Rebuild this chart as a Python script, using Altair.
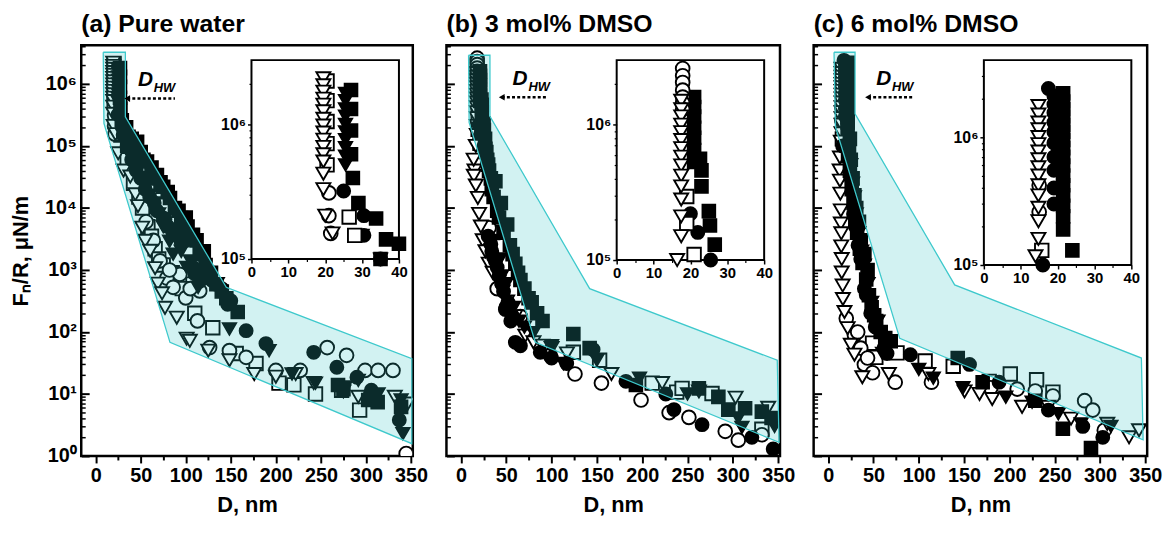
import altair as alt
import pandas as pd

FONT = "Liberation Sans, Arial, Helvetica, sans-serif"

SERIES = ["sq_f", "ci_f", "tr_f", "sq_o", "ci_o", "tr_o"]
SHAPES = ["square", "circle", "triangle-down", "square", "circle", "triangle-down"]
FILLS = ["#000000", "#000000", "#000000", "#ffffff", "#ffffff", "#ffffff"]
SIZES = [165, 200, 245, 165, 200, 245]

PANEL_TITLES = ["(a) Pure water", "(b) 3 mol% DMSO", "(c) 6 mol% DMSO"]
X_TICKS = [0, 50, 100, 150, 200, 250, 300, 350]
X_MINOR = [25, 75, 125, 175, 225, 275, 325]
Y_TICKS = [1, 10, 100, 1e3, 1e4, 1e5, 1e6]
Y_MINOR = [m * 10 ** k for k in range(7) for m in range(2, 10) if m * 10 ** k < 4.2e6]
INSET_X_TICKS = [0, 10, 20, 30, 40]
INSET_X_MINOR = [5, 15, 25, 35]
INSET_Y_TICKS = [1e5, 1e6]
INSET_TOPS = [3.0e6, 3.0e6, 4.0e6]

# ---------------- panel (a) pure water ----------------
A_SQF_D = [27, 27, 27, 27, 27.5, 29, 33.8, 36.5, 40, 46, 50, 57, 62, 68, 75, 82.5, 88, 95, 102, 108,
           115.5, 122, 134, 140, 157.7, 269, 275, 302.5, 313, 339,
           35, 43, 53, 60, 72, 80, 92, 100, 112, 120, 128, 145]
A_SQF_F = [1.8e6, 1.3e6, 9e5, 6e5, 4e5, 2.6e5, 2e5, 1.4e5, 1.3e5, 1.17e5, 8e4, 5.6e4, 4.5e4, 3.4e4, 2.2e4,
           1.45e4, 1e4, 6.9e3, 5e3, 3.7e3, 1.8e3, 1.2e3, 590, 450, 210, 14, 12, 8, 7.4, 6.2,
           1e5, 9e4, 6e4, 3e4, 2.6e4, 1.8e4, 9e3, 7e3, 3e3, 2e3, 900, 350]
A_CIF_D = [25, 30.5, 30.5, 35, 40, 50, 60, 68, 75, 77, 86, 93.5, 95, 108, 110, 115.5, 134, 146.5, 167,
           189, 242, 267.7, 290, 306, 337,
           45, 55, 65, 80, 90, 100, 120, 128, 140, 150]
A_CIF_F = [3.2e5, 2.1e5, 1.5e5, 1.0e5, 6e4, 3e4, 1.5e4, 9e3, 6.9e3, 6.6e3, 3.7e3, 3.3e3, 2.75e3, 1.1e3,
           870, 660, 590, 280, 105, 65, 47, 27, 18.6, 11.5, 3.8,
           4e4, 2e4, 1.2e4, 5e3, 4.5e3, 3e3, 900, 700, 500, 320]
A_TRF_D = [25.5, 25.5, 25.5, 25.5, 25.5, 25.5, 25.5, 25.5, 25.5, 25.5, 30, 35, 45, 55, 65, 82, 86, 101,
           113.7, 148.5, 192.5, 218, 244, 277, 291.5, 313.5, 339, 341,
           38, 42, 50, 60, 70, 75, 95, 105, 125, 135]
A_TRF_F = [1.7e6, 1.5e6, 1.3e6, 1.15e6, 1.0e6, 8.8e5, 7.7e5, 6.7e5, 5.8e5, 5e5, 1.5e5, 1.0e5, 4.5e4,
           2.2e4, 1.2e4, 2.9e3, 1.8e3, 1.1e3, 525, 112, 50, 21, 15, 13, 16.6, 10, 8, 2.3,
           7e4, 5e4, 3e4, 1.6e4, 8e3, 5e3, 2e3, 1.4e3, 700, 600]
A_SQO_D = [20.5, 20.5, 20.5, 20.5, 20.5, 26.5, 28, 48, 58, 66, 75, 90, 108, 110, 130, 156, 178, 203.5,
           220, 244, 273, 293, 35, 42, 52, 62, 70, 85, 96]
A_SQO_F = [2.1e6, 1.5e6, 1.05e6, 7.2e5, 5e5, 2.05e5, 1.5e5, 1.5e4, 5e3, 2.2e3, 1.2e3, 700, 590, 200,
           117, 45, 31, 15, 14, 10, 11.5, 5.5, 6e4, 2.5e4, 1e4, 3.5e3, 1.5e3, 900, 500]
A_CIO_D = [21, 21, 21.5, 64, 71.5, 79, 86, 93.5, 100, 113, 115.5, 126.5, 148.5, 167, 200, 227, 257,
           278.5, 299, 313.5, 330, 344.7, 56, 82, 105]
A_CIO_F = [3.1e5, 2.1e5, 1.55e5, 3e3, 1.4e3, 740, 525, 850, 355, 151, 460, 56, 50, 39, 24, 24, 56, 42,
           24, 24, 24, 1.1, 6e3, 1e3, 500]
A_TRO_D = [19.5, 19.5, 19.5, 19.5, 19.5, 19.5, 19.5, 19.5, 19.5, 19.5, 19.5, 19.5, 19.5, 19.5, 19.5,
           20, 22, 25, 31, 38.5, 44, 47, 51.7, 55, 60.5, 66, 69, 73.7, 77, 90, 101, 104.5, 125, 148.5,
           176, 200, 222, 242, 275, 291.5, 332, 346.5]
A_TRO_F = [2.2e6, 1.95e6, 1.75e6, 1.55e6, 1.4e6, 1.25e6, 1.1e6, 9.8e5, 8.7e5, 7.7e5, 6.8e5, 6.0e5,
           5.3e5, 4.3e5, 3.3e5, 2.1e5, 1.55e5, 7.6e4, 4e4, 3.2e4, 1.66e4, 1.07e4, 4.8e3, 2.95e3, 2.04e3,
           1.07e3, 600, 420, 245, 170, 78, 72, 50, 35, 21, 19, 21, 15, 11, 9, 9, 7]

# ---------------- panel (b) 3 mol% DMSO ----------------
B_SQF_D = [21, 21, 21, 21, 21, 21, 21, 22.6, 23, 23, 25, 25.3, 26.6, 28, 30, 33, 38, 44, 51, 60, 65.6,
           74.6, 84, 124, 142, 193, 262.5, 284, 295, 313.5, 332, 342.7,
           27, 29, 31, 34, 36, 40, 42, 47, 54, 57, 63, 70, 78, 90]
B_SQF_F = [1.6e6, 1.35e6, 1.15e6, 9.5e5, 8e5, 6.5e5, 5.3e5, 5.6e5, 4.6e5, 3.5e5, 2.3e5, 1.8e5, 1.3e5,
           8e4, 5e4, 3e4, 2.7e4, 1.2e4, 5.4e3, 1.26e3, 690, 350, 200, 93, 55, 14, 12.3, 9, 5.6, 5.9, 5.2,
           4.1, 9e4, 6e4, 4e4, 2e4, 1.5e4, 9e3, 7e3, 4e3, 2.5e3, 1.8e3, 900, 500, 300, 150]
B_CIF_D = [20, 22, 25.5, 33, 36, 40, 45, 49, 55, 60, 65.6, 87.5, 100, 116.7, 145.8, 182, 226, 235, 266,
           321, 344.5, 30, 34, 38, 42, 47, 52, 57]
B_CIF_F = [2.2e5, 1.6e5, 1e5, 2.6e3, 1.6e3, 1.1e3, 600, 230, 150, 68, 60, 47, 38, 31, 52, 16, 10, 5.6,
           3.2, 2, 1.3, 3.5e3, 2e3, 1.4e3, 800, 450, 300, 180]
B_TRF_D = [45, 70, 80, 100, 113, 150, 197, 250, 306, 310, 346, 35, 43, 50, 58, 64]
B_TRF_F = [800, 120, 97, 60, 31, 35, 18, 10, 4.1, 2.9, 3, 3e3, 1.5e3, 600, 250, 150]
B_SQO_D = [19, 19, 21, 35, 124, 153, 211, 238, 244, 277, 332]
B_SQO_F = [2.95e5, 1.86e5, 1.1e5, 4e3, 47, 35, 15, 10.7, 12.3, 10.2, 2.7]
B_CIO_D = [17.9, 17.9, 17.9, 17.9, 17.9, 17.9, 17.9, 31, 65.6, 98.4, 125.8, 155, 198.7, 229.7, 251.5,
           291.6, 306, 332, 40, 50]
B_CIO_F = [2.6e6, 2.3e6, 2.05e6, 1.8e6, 1.6e6, 1.45e6, 1.3e6, 4.8e3, 178, 42, 21, 15, 8, 5, 4.2, 2.5,
           1.8, 2.2, 500, 250]
B_TRO_D = [17.5, 17.5, 17.5, 17.5, 17.5, 17.5, 17.5, 17.5, 17.5, 17.5, 17.5, 17.5, 17.5, 17.5, 16.4, 15,
           14.2, 16.4, 18.6, 24, 30.6, 41.6, 51, 71, 80, 117, 166, 222, 262.6, 303, 339,
           14, 20, 22, 27, 35, 46, 60, 90, 100]
B_TRO_F = [1.5e6, 1.3e6, 1.15e6, 1.0e6, 8.8e5, 7.7e5, 6.7e5, 5.8e5, 5e5, 4.2e5, 3.5e5, 2.8e5, 2.1e5,
           1.5e5, 1e5, 4e4, 3.3e4, 2.3e4, 1.45e4, 3e3, 1.26e3, 650, 310, 87, 68, 45, 21, 15, 11, 8.7, 6,
           6e4, 8e3, 5e3, 2e3, 900, 450, 180, 60, 55]

# ---------------- panel (c) 6 mol% DMSO ----------------
C_SQF_D = [21.5, 21.5, 21.5, 21.5, 21.5, 21.5, 21.5, 21.5, 21.5, 21.5, 21.5, 21.5, 21.5, 21.5, 21.5,
           21.5, 24, 22, 24, 26, 28, 30, 32, 35, 38, 43.5, 45, 50.8, 58, 69, 143, 170.5, 228.5, 259, 290,
           23, 25, 27, 29, 31, 34, 36, 40, 42, 48, 53, 63]
C_SQF_F = [2.2e6, 1.9e6, 1.65e6, 1.45e6, 1.25e6, 1.1e6, 9.5e5, 8.2e5, 7e5, 6e5, 5e5, 4.2e5, 3.5e5,
           2.9e5, 2.4e5, 1.9e5, 1.3e5, 7e4, 4e4, 2e4, 1.2e4, 7e3, 4e3, 2.2e3, 1.3e3, 1e3, 390, 186, 100,
           71, 38, 15.5, 7.8, 2.75, 1.35, 9e4, 6e4, 3e4, 1.6e4, 1e4, 6e3, 3e3, 1.8e3, 700, 250, 150, 80]
C_CIF_D = [17.5, 19, 19, 19, 19, 19, 19, 19, 19, 19, 19, 16, 25, 28, 33, 40, 61.7, 90.7, 156, 188.6,
           243, 281, 303, 30, 36, 42, 47, 52, 65]
C_CIF_F = [2.4e6, 2.1e6, 1.8e6, 1.55e6, 1.3e6, 1.1e6, 9e5, 7e5, 5.5e5, 4e5, 3e5, 1e5, 3e4, 8e3, 2.5e3,
           500, 55, 43, 30, 15.5, 5.5, 3, 2, 5e3, 1.5e3, 400, 200, 120, 45]
C_TRF_D = [60, 100, 116, 148.7, 196, 225, 254, 279, 312, 25, 27, 29, 31, 34, 37, 40, 44, 48, 55]
C_TRF_F = [45, 25, 18, 12.6, 8.9, 7.4, 4.8, 3.3, 3, 5e4, 2.5e4, 1.5e4, 8e3, 4e3, 2e3, 1.2e3, 600, 300,
           150]
C_SQO_D = [15.7, 20, 49, 52.6, 76, 107, 138, 177.7, 201, 230, 248]
C_SQO_F = [1.3e5, 7e4, 66, 39, 46, 34, 28, 16, 21, 17, 10.7]
C_CIO_D = [15, 15, 20, 29, 32.6, 36, 40, 43.5, 49, 74, 114, 179.5, 208.6, 228.5, 248, 283, 292, 304.7]
C_CIO_F = [4.2e5, 2.6e5, 166, 89, 100, 55, 30, 38, 22, 15.5, 15.5, 12.6, 12, 11.2, 9.3, 7.8, 5.5, 2.6]
C_TRO_D = [14.8, 14.8, 14.8, 14.8, 14.8, 14.8, 14.8, 14.8, 14.8, 14.8, 14.8, 14.8, 14.8, 14.8, 14.8,
           14, 13, 12.7, 13, 13.5, 14, 14, 14.5, 14.5, 15, 15, 16, 16.3, 18, 21.5, 25, 29, 37.7,
           67, 110.6, 150.5, 167, 181, 214, 243, 268, 308, 332, 343]
C_TRO_F = [1.75e6, 1.5e6, 1.3e6, 1.15e6, 1.0e6, 8.8e5, 7.7e5, 6.7e5, 5.8e5, 5e5, 4.2e5, 3.5e5, 2.8e5,
           2.2e5, 1.6e5, 1.17e5, 6.5e4, 4e4, 2.75e4, 1.7e4, 9.1e3, 5.6e3, 3.9e3, 2.4e3, 1.5e3, 910, 560,
           340, 210, 115, 62, 43, 18.6, 21, 21, 11, 10, 8.3, 6.2, 6.2, 4, 3.3, 2, 2.6]

PANEL_DATA = [
    [(A_SQF_D, A_SQF_F), (A_CIF_D, A_CIF_F), (A_TRF_D, A_TRF_F),
     (A_SQO_D, A_SQO_F), (A_CIO_D, A_CIO_F), (A_TRO_D, A_TRO_F)],
    [(B_SQF_D, B_SQF_F), (B_CIF_D, B_CIF_F), (B_TRF_D, B_TRF_F),
     (B_SQO_D, B_SQO_F), (B_CIO_D, B_CIO_F), (B_TRO_D, B_TRO_F)],
    [(C_SQF_D, C_SQF_F), (C_CIF_D, C_CIF_F), (C_TRF_D, C_TRF_F),
     (C_SQO_D, C_SQO_F), (C_CIO_D, C_CIO_F), (C_TRO_D, C_TRO_F)],
]

# shaded region outlines (vertices, closed)
POLY_A_D = [8.4, 33, 33, 145, 351, 351, 82.5, 9.2, 8.4]
POLY_A_F = [3.24e6, 3.24e6, 2.95e5, 525, 37, 1.58, 68, 2.3e5, 3.24e6]
POLY_B_D = [8.4, 32, 32, 142, 349, 351, 82, 9, 8.4]
POLY_B_F = [2.9e6, 2.9e6, 3.0e5, 500, 35, 1.66, 68, 2.4e5, 2.9e6]
POLY_C_D = [6.5, 29.7, 29.7, 139.6, 345.6, 347.5, 79, 8, 6.5]
POLY_C_F = [3.24e6, 3.24e6, 3.3e5, 575, 38, 1.82, 79, 2.04e5, 3.24e6]
POLYS = [(POLY_A_D, POLY_A_F), (POLY_B_D, POLY_B_F), (POLY_C_D, POLY_C_F)]

# D_HW annotation
ANN_TEXT_D = [47, 57, 53]
ANN_TEXT_F = [9.3e5, 9.5e5, 9.5e5]
ANN_ARROW_D0 = [35, 45, 44]
ANN_ARROW_D1 = [88, 95, 95]
ANN_ARROW_F = [5.8e5, 6.1e5, 6.1e5]

WIDTHS = [335, 337, 337]
H = 415
INSET_X_RANGE = [172, 321]
INSET_Y_BOTTOM = [216, 217, 222]
INSET_Y_TOP = 15

SUP = ("'10' + substring('⁰¹²³⁴⁵⁶⁷⁸⁹', round(log(datum.value)/LN10), "
       "round(log(datum.value)/LN10) + 1)")


def build_df(i, order):
    rows = []
    for k in order:
        s = SERIES[k]
        ds, fs = PANEL_DATA[i][k]
        for d, f in zip(ds, fs):
            rows.append({"D": d, "F": f, "s": s})
    return pd.DataFrame(rows)


def panel(i):
    df_main = build_df(i, [3, 4, 5, 0, 1, 2])   # filled symbols drawn on top
    df_ins = build_df(i, [0, 1, 2, 3, 4, 5])    # open symbols drawn on top
    pd_, pf_ = POLYS[i]
    poly_df = pd.DataFrame({"D": pd_, "F": pf_, "i": list(range(len(pd_)))})
    ann = pd.DataFrame({"tx": [ANN_TEXT_D[i]], "ty": [ANN_TEXT_F[i]], "a0": [ANN_ARROW_D0[i]],
                        "a1": [ANN_ARROW_D1[i]], "ay": [ANN_ARROW_F[i]]})
    top = INSET_TOPS[i]
    ybot = INSET_Y_BOTTOM[i]
    box = pd.DataFrame({"x0": [0], "x1": [40], "y0": [1e5], "y1": [top]})

    xs = alt.Scale(domain=[-16, 352], nice=False, zero=False)
    ys = alt.Scale(type="log", domain=[1, 4.2e6], nice=False)
    xi = alt.Scale(domain=[0, 40], range=INSET_X_RANGE, nice=False, zero=False)
    yi = alt.Scale(type="log", domain=[1e5, top], range=[ybot, INSET_Y_TOP], nice=False)
    shape = alt.Shape("s:N", scale=alt.Scale(domain=SERIES, range=SHAPES), legend=None)
    fill = alt.Fill("s:N", scale=alt.Scale(domain=SERIES, range=FILLS), legend=None)
    size = alt.Size("s:N", scale=alt.Scale(domain=SERIES, range=SIZES), legend=None)

    x_major = alt.Axis(orient="bottom", values=X_TICKS, tickSize=7, tickWidth=2, domain=False,
                       labelFontSize=20, labelPadding=3, labelFlush=False, labelOverlap=False,
                       title="D, nm", titleFontSize=22, titlePadding=9, zindex=2)
    x_minor = alt.Axis(orient="bottom", values=X_MINOR, tickSize=4, tickWidth=2, domain=False,
                       labels=False, title=None, zindex=2)
    if i == 0:
        y_lab = alt.Axis(orient="left", values=Y_TICKS, ticks=False, domain=False, labelExpr=SUP,
                         labelFontSize=20, labelPadding=5, labelOverlap=False,
                         title="Fₙ/R, μN/m", titleFontSize=22, titlePadding=12, zindex=2)
    else:
        y_lab = None
    y_major = alt.Axis(orient="left", values=Y_TICKS, tickSize=8, tickWidth=2, offset=-8,
                       domain=False, labels=False, title=None, zindex=2)
    y_minor = alt.Axis(orient="left", values=Y_MINOR, tickSize=4, tickWidth=1.5, offset=-4,
                       domain=False, labels=False, title=None, zindex=2)

    off_x = -(H - ybot)
    xi_axis = alt.Axis(orient="bottom", offset=off_x, values=INSET_X_TICKS, tickSize=4, tickWidth=1.5,
                       domain=False, labelFontSize=15, labelPadding=2, labelFlush=False,
                       labelOverlap=False, title=None, zindex=2)
    xi_minor = alt.Axis(orient="bottom", offset=off_x, values=INSET_X_MINOR, tickSize=2.5,
                        tickWidth=1.2, domain=False, labels=False, title=None, zindex=2)
    yi_axis = alt.Axis(orient="left", offset=-INSET_X_RANGE[0], values=INSET_Y_TICKS, tickSize=4,
                       tickWidth=1.5, domain=False, labelExpr=SUP, labelFontSize=16, labelPadding=2,
                       labelOverlap=False, title=None, zindex=2)
    yi_minor = alt.Axis(orient="left", offset=-INSET_X_RANGE[0],
                        values=[v for v in Y_MINOR if 1e5 < v < top], tickSize=2.5, tickWidth=1.2,
                        domain=False, labels=False, title=None, zindex=2)

    pts = alt.Chart(df_main).mark_point(filled=True, stroke="black", strokeWidth=1.9,
                                        opacity=1, clip=True).encode(
        x=alt.X("D:Q", scale=xs, axis=x_major),
        y=alt.Y("F:Q", scale=ys, axis=y_lab),
        shape=shape, fill=fill, size=size)

    poly = alt.Chart(poly_df).mark_line(fill="#34c4c4", fillOpacity=0.22, stroke="#3ec9cc",
                                        strokeWidth=1.3, clip=True).encode(
        x=alt.X("D:Q", scale=xs, axis=x_minor),
        y=alt.Y("F:Q", scale=ys, axis=y_major),
        order="i:Q")

    arrow = alt.Chart(ann).mark_rule(strokeDash=[3, 2.2], strokeWidth=2.5, color="black").encode(
        x=alt.X("a0:Q", scale=xs, axis=None), x2="a1:Q",
        y=alt.Y("ay:Q", scale=ys, axis=y_minor))
    head = alt.Chart(ann).mark_point(shape="triangle-left", filled=True, size=45, color="black",
                                     opacity=1).encode(
        x=alt.X("a0:Q", scale=xs, axis=None), y=alt.Y("ay:Q", scale=ys, axis=None))
    txt_d = alt.Chart(ann).mark_text(text="D", font=FONT, fontSize=21, fontWeight="bold",
                                     fontStyle="italic", align="left", baseline="alphabetic",
                                     color="black").encode(
        x=alt.X("tx:Q", scale=xs, axis=None), y=alt.Y("ty:Q", scale=ys, axis=None))
    txt_hw = alt.Chart(ann).mark_text(text="HW", font=FONT, fontSize=13, fontWeight="bold",
                                      fontStyle="italic", align="left", baseline="alphabetic",
                                      dx=16, dy=6, color="black").encode(
        x=alt.X("tx:Q", scale=xs, axis=None), y=alt.Y("ty:Q", scale=ys, axis=None))

    ibox = alt.Chart(box).mark_rect(fill="white", stroke="black", strokeWidth=2).encode(
        x=alt.X("x0:Q", scale=xi, axis=xi_axis), x2="x1:Q",
        y=alt.Y("y0:Q", scale=yi, axis=yi_axis), y2="y1:Q")
    ipts = alt.Chart(df_ins).transform_filter(
        (alt.datum.D <= 40) & (alt.datum.F >= 1e5) & (alt.datum.F <= top)
    ).mark_point(filled=True, stroke="black", strokeWidth=1.9, opacity=1).encode(
        x=alt.X("D:Q", scale=xi, axis=xi_minor),
        y=alt.Y("F:Q", scale=yi, axis=yi_minor),
        shape=shape, fill=fill, size=size)

    return alt.layer(pts, poly, arrow, head, txt_d, txt_hw, ibox, ipts).resolve_scale(
        x="independent", y="independent").properties(
        width=WIDTHS[i], height=H,
        title=alt.TitleParams(PANEL_TITLES[i], anchor="start", frame="group", fontSize=25,
                              fontWeight="bold", font=FONT, color="black", offset=8))


chart = alt.hconcat(panel(0), panel(1), panel(2), spacing=34, bounds="flush").properties(
    padding={"left": 0, "top": 0, "right": 0, "bottom": 0}
).configure_axis(
    grid=False, labelFont=FONT, titleFont=FONT, labelFontWeight="bold", titleFontWeight="bold",
    labelColor="black", titleColor="black", tickColor="black", domainColor="black"
).configure_view(stroke="black", strokeWidth=2.5)

chart.save("out.html", embed_options={"renderer": "svg", "actions": False})
